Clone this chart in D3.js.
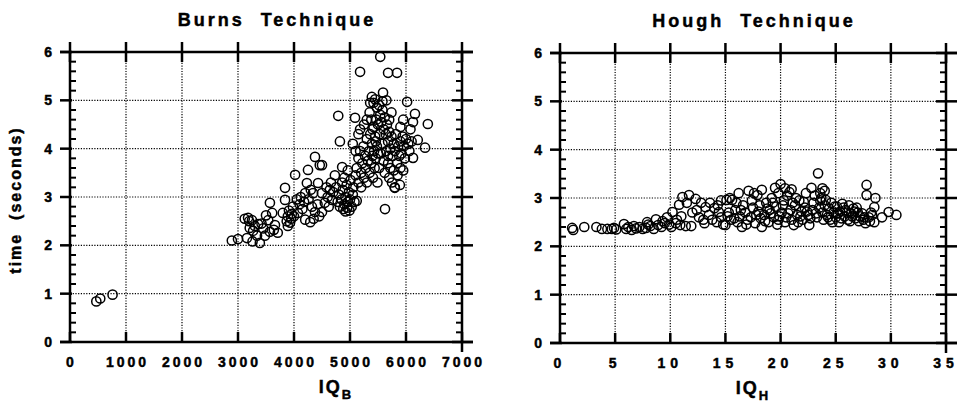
<!DOCTYPE html>
<html>
<head>
<meta charset="utf-8">
<script src="https://cdn.jsdelivr.net/npm/d3@7"></script>
<style>
  body { margin: 0; background: #fff; }
  text { font-family: "Liberation Sans", Arial, sans-serif; font-weight: bold; fill: #000; stroke: #000; stroke-width: 0.45px; }
</style>
</head>
<body>
<svg id="chart" width="959" height="405"></svg>
<script>
// values
var burnsTitle = "Burns  Technique",
    houghTitle = "Hough  Technique";
var burnsXTicks = [0, 1000, 2000, 3000, 4000, 5000, 6000, 7000],
    houghXTicks = [0, 5, 10, 15, 20, 25, 30, 35],
    timeTicks = [0, 1, 2, 3, 4, 5, 6];

var burnsPoints = [
  [470,0.84],[540,0.9],[760,0.98],
  [2890,2.1],[3000,2.13],[3120,2.55],[3180,2.57],[3160,2.15],[3250,2.52],[3210,2.36],[3270,2.3],[3260,2.08],
  [3340,2.2],[3390,2.05],[3360,2.44],[3480,2.2],[3420,2.45],[3540,2.52],[3500,2.62],[3570,2.88],[3610,2.67],
  [3660,2.42],[3570,2.28],[3710,2.26],[3640,2.32],[3300,2.4],[3450,2.35],[3200,2.5],
  [3800,2.67],[3840,2.94],[3840,3.19],[3870,2.5],[3890,2.6],[3910,2.72],[3930,2.47],[3950,2.55],[3960,2.65],
  [3890,2.4],[3980,2.8],[4020,3.46],[4070,2.67],[4200,2.53],[4290,2.48],[4320,2.8],[4230,3.29],[4200,3.08],
  [4250,3.56],[4375,3.83],[4460,3.66],[4100,2.85],[4150,2.75],[4050,2.95],[4000,2.6],[4120,3.0],[4180,2.9],
  [4260,2.95],[4300,3.15],[4340,3.08],[4375,2.69],[4430,3.29],[4500,3.08],[4550,2.88],[4500,2.69],[4640,3.15],
  [4680,2.94],[4420,2.85],[4450,2.6],[4350,2.55],[4580,3.2],[4600,3.0],[4620,2.8],[4700,3.1],[4660,3.3],
  [4780,2.9],[4800,3.05],[4820,2.8],[4850,2.95],[4870,3.15],[4880,2.75],[4900,2.85],[4920,3.0],[4940,3.25],
  [4950,2.78],[4960,2.9],[4980,3.1],[5000,2.95],[5010,3.35],[5030,2.8],[5050,3.05],[5060,3.2],[5080,2.9],
  [5100,3.45],[4900,3.4],[4960,3.55],[4860,3.3],[4750,3.2],[4730,3.45],[4920,2.7],[4990,2.72],[5120,2.92],
  [4790,4.68],[4820,4.15],[4860,3.62],[4500,3.66],[5090,4.64],
  [5120,3.6],[5150,3.3],[5150,3.8],[5180,3.95],[5200,3.5],[5200,3.2],[5220,3.7],[5240,4.05],[5250,3.4],
  [5270,3.85],[5280,3.6],[5300,4.2],[5300,3.3],[5320,3.75],[5340,3.95],[5350,3.5],[5360,4.3],[5380,3.7],
  [5390,4.1],[5400,3.85],[5410,3.4],[5420,4.45],[5430,3.95],[5440,3.6],[5450,4.25],[5460,3.8],[5470,4.6],
  [5480,4.05],[5490,3.3],[5500,3.9],[5100,3.95],[5050,4.1],[5150,4.3],[5250,4.5],[5180,4.4],[5300,4.6],[5350,4.75],
  [5390,5.07],[5590,5.16],[5420,4.95],[5450,5.02],[5480,4.85],[5520,4.9],[5540,4.7],[5560,4.55],[5580,4.8],
  [5600,4.4],[5620,4.65],[5640,4.3],[5660,4.5],[5680,4.15],[5700,4.35],[5720,4.0],[5740,4.25],[5760,3.85],
  [5780,4.1],[5800,3.95],[5820,4.3],[5840,3.7],[5860,4.05],[5880,3.85],[5900,4.15],[5920,3.9],[5940,4.25],
  [5960,4.05],[5980,3.8],[6000,4.2],[6020,4.97],[6040,4.1],[6060,3.95],[6160,4.72],[6125,4.55],[6390,4.51],
  [6340,4.02],[6210,4.18],[6125,3.81],[6080,4.4],[6100,4.15],[5520,3.6],[5550,3.9],[5580,4.1],[5600,3.75],
  [5620,3.5],[5650,3.95],[5680,3.7],[5700,3.4],[5720,3.6],[5750,3.3],[5780,3.55],[5800,3.2],[5890,3.25],
  [5625,2.75],[5800,3.19],[5850,3.45],[5900,3.6],[5950,3.55],[5680,3.85],[5540,5.9],[5180,5.59],[5680,5.57],
  [5840,5.57],[5500,4.5],[5530,4.3],[5460,4.15],[5700,4.6],[5740,4.75],[5900,4.45],[5950,4.6],[5650,5.0],
  [5580,4.98],[5360,4.95],[5380,4.6],[5400,4.4]
];

var houghPoints = [
  [1.1,2.38],[1.2,2.34],[2.2,2.4],[3.3,2.4],[3.8,2.36],[4.3,2.36],[4.7,2.36],[4.9,2.38],[5.1,2.35],[5.8,2.46],
  [6.0,2.36],[6.2,2.4],[6.5,2.34],[6.7,2.42],[6.9,2.37],[7.2,2.4],[7.5,2.36],[7.9,2.5],[7.8,2.38],[8.2,2.42],
  [8.5,2.36],[8.7,2.56],[8.9,2.44],[9.2,2.4],[9.5,2.48],[9.7,2.6],[9.9,2.45],[10.2,2.71],[10.1,2.4],[10.5,2.48],
  [10.8,2.86],[10.9,2.44],[11.1,3.02],[11.4,2.42],[11.5,2.9],[11.7,3.06],[11.9,2.42],[12.3,2.98],[12.4,2.75],
  [12.6,2.6],[13.1,2.48],[13.2,2.81],[13.5,2.65],[13.8,2.55],[14.0,2.79],[14.2,2.5],[14.4,2.71],[14.6,2.6],
  [14.8,2.45],[15.0,2.44],[15.1,2.96],[15.3,2.7],[15.5,2.55],[15.6,2.96],[15.9,2.75],[16.1,2.5],[16.3,2.62],
  [16.5,2.4],[16.6,2.85],[16.8,2.7],[17.0,2.55],[17.1,3.15],[17.3,2.6],[17.5,2.8],[17.7,2.48],[17.9,3.06],
  [18.0,2.72],[18.2,2.58],[18.3,3.17],[18.3,2.4],[18.5,2.65],[18.7,2.9],[18.9,2.5],[19.0,2.75],[19.2,3.0],
  [19.4,2.6],[19.5,3.21],[19.6,2.82],[19.8,2.55],[20.0,3.29],[20.1,2.7],[20.3,2.95],[20.5,2.6],[20.6,3.05],
  [20.8,3.12],[20.9,2.75],[21.0,2.55],[21.2,2.44],[21.3,2.85],[21.5,2.65],[21.7,2.95],[21.9,2.72],[22.0,2.55],
  [22.2,2.8],[22.3,3.1],[22.5,2.65],[22.6,2.44],[22.8,3.21],[22.9,2.75],[23.0,2.9],[23.1,3.05],[23.3,2.6],
  [23.4,3.51],[23.5,2.8],[23.6,2.95],[23.8,2.7],[23.9,2.55],[24.0,2.85],[24.1,2.96],[24.2,2.65],[24.4,2.78],
  [24.5,2.55],[24.6,2.9],[24.8,2.7],[25.0,2.6],[25.1,2.82],[25.3,2.5],[25.4,2.72],[25.6,2.88],[25.8,2.62],
  [25.9,2.75],[26.1,2.55],[26.2,2.85],[26.4,2.68],[26.6,2.78],[26.8,2.58],[27.0,2.7],[27.2,2.62],[27.5,2.55],
  [27.7,2.48],[27.8,3.27],[27.8,3.06],[28.0,2.6],[28.2,2.7],[28.5,2.81],[28.5,2.5],[28.6,3.0],[29.2,2.6],
  [29.8,2.71],[30.5,2.65],
  [13.0,2.55],[13.6,2.9],[14.3,2.85],[15.2,2.62],[15.8,2.58],[16.0,2.9],[16.4,2.75],[16.9,2.45],[17.4,2.95],
  [17.8,2.65],[18.1,2.85],[18.6,2.52],[18.8,2.78],[19.1,2.68],[19.3,2.9],[19.7,2.45],[19.9,2.62],[20.2,2.85],
  [20.4,2.5],[20.7,2.68],[21.1,2.9],[21.4,3.0],[21.6,2.5],[21.8,2.62],[22.1,2.92],[22.4,2.72],[22.7,2.58],
  [23.2,2.68],[23.7,3.0],[24.3,2.6],[24.7,2.5],[24.9,2.82],[25.2,2.68],[25.5,2.58],[25.7,2.8],[26.0,2.7],
  [26.3,2.52],[26.5,2.62],[26.7,2.72],[26.9,2.8],[27.1,2.52],[27.4,2.68],[27.6,2.6],[28.1,2.52],[28.3,2.65],
  [24.0,3.15],[23.8,3.2],[23.6,3.1],[20.4,3.2],[19.8,3.1],[21.0,3.18],[17.6,3.1],[16.2,3.1],[15.4,3.0],
  [14.6,2.95],[12.8,2.9],[11.0,2.62],[12.0,2.7],[10.6,2.55],[9.3,2.52],[8.0,2.45]
];

var svg = d3.select("#chart");

function panel(opts) {
  var w = opts.width, h = opts.height;
  var x = d3.scaleLinear().domain([0, opts.xTicks[opts.xTicks.length - 1]]).range([0, w]),
      y = d3.scaleLinear().domain([0, 6]).range([h, 0]);
  var g = svg.append("g").attr("transform", "translate(" + opts.left + "," + opts.top + ")");

  // dotted grid
  g.selectAll(".gx").data(opts.xTicks.slice(1, -1)).enter().append("line")
      .attr("x1", function(d) { return x(d); }).attr("x2", function(d) { return x(d); })
      .attr("y1", 0).attr("y2", h)
      .attr("stroke", "#000").attr("stroke-width", 1.2).attr("stroke-dasharray", "1.2,1.5");
  g.selectAll(".gy").data(timeTicks.slice(1, -1)).enter().append("line")
      .attr("x1", 0).attr("x2", w)
      .attr("y1", function(d) { return y(d); }).attr("y2", function(d) { return y(d); })
      .attr("stroke", "#000").attr("stroke-width", 1.2).attr("stroke-dasharray", "1.2,1.5");

  // frame
  var frame = g.append("g").attr("stroke", "#000").attr("stroke-width", 2.5);
  frame.append("line").attr("x1", -10).attr("x2", w + 11).attr("y1", 0).attr("y2", 0);
  frame.append("line").attr("x1", -10).attr("x2", w + 11).attr("y1", h).attr("y2", h);
  frame.append("line").attr("x1", 0).attr("x2", 0).attr("y1", -1).attr("y2", h + 1);
  frame.append("line").attr("x1", w).attr("x2", w).attr("y1", -1).attr("y2", h + 10);

  // x ticks: upward on bottom, crossing on top
  frame.selectAll(".tb").data(opts.xTicks).enter().append("line")
      .attr("x1", function(d) { return x(d); }).attr("x2", function(d) { return x(d); })
      .attr("y1", h).attr("y2", h - 10);
  frame.selectAll(".tt").data(opts.xTicks).enter().append("line")
      .attr("x1", function(d) { return x(d); }).attr("x2", function(d) { return x(d); })
      .attr("y1", -10).attr("y2", 10);

  // y major ticks
  frame.selectAll(".tl").data(timeTicks).enter().append("line")
      .attr("x1", -10).attr("x2", 2)
      .attr("y1", function(d) { return y(d); }).attr("y2", function(d) { return y(d); });
  frame.selectAll(".tr").data(timeTicks).enter().append("line")
      .attr("x1", w - 10).attr("x2", w + 11)
      .attr("y1", function(d) { return y(d); }).attr("y2", function(d) { return y(d); });

  // y minor ticks
  var minor = d3.range(0, 30).map(function(i) { return i / 5; }).filter(function(v) { return Math.round(v * 5) % 5 != 0; });
  frame.selectAll(".ml").data(minor).enter().append("line")
      .attr("x1", 0).attr("x2", 6).attr("stroke-width", 2)
      .attr("y1", function(d) { return y(d); }).attr("y2", function(d) { return y(d); });
  frame.selectAll(".mr").data(minor).enter().append("line")
      .attr("x1", w - 6).attr("x2", w).attr("stroke-width", 2)
      .attr("y1", function(d) { return y(d); }).attr("y2", function(d) { return y(d); });

  // tick labels
  g.selectAll(".xl").data(opts.xTicks).enter().append("text")
      .attr("x", function(d) { return x(d) + opts.lsDx; })
      .attr("y", h + 25)
      .attr("text-anchor", "middle")
      .style("font-size", "14px")
      .style("letter-spacing", opts.ls + "px")
      .text(function(d) { return d; });
  g.selectAll(".yl").data(timeTicks).enter().append("text")
      .attr("x", -18)
      .attr("y", function(d) { return y(d); })
      .attr("dy", "0.36em")
      .attr("text-anchor", "end")
      .style("font-size", "14px")
      .text(function(d) { return d; });

  // title
  g.append("text")
      .attr("x", w / 2 + opts.titleDx)
      .attr("y", -26)
      .attr("text-anchor", "middle")
      .style("font-size", "18px")
      .style("letter-spacing", "3px")
      .style("white-space", "pre")
      .text(opts.title);

  // x axis title with subscript
  var xt = g.append("text")
      .attr("x", w / 2 + opts.labelDx)
      .attr("y", h + 51)
      .attr("text-anchor", "middle")
      .style("font-size", "18px");
  xt.append("tspan").style("letter-spacing", "2px").text("IQ");
  xt.append("tspan").attr("dy", 6).style("font-size", "13px").text(opts.sub);

  // points
  g.selectAll(".pt").data(opts.points).enter().append("circle")
      .attr("cx", function(d) { return x(d[0]); })
      .attr("cy", function(d) { return y(d[1]); })
      .attr("r", 4.6)
      .attr("fill", "none")
      .attr("stroke", "#000")
      .attr("stroke-width", 1.5);

  return g;
}

panel({left: 70, top: 52, width: 392, height: 290, xTicks: burnsXTicks, points: burnsPoints,
       title: burnsTitle, titleDx: 11, sub: "B", labelDx: 69, ls: 3, lsDx: 1.5});
panel({left: 560, top: 53, width: 386, height: 290, xTicks: houghXTicks, points: houghPoints,
       title: houghTitle, titleDx: 1, sub: "H", labelDx: -1, ls: 5, lsDx: 0});

// shared y title
svg.append("text")
    .attr("transform", "translate(21,200) rotate(-90)")
    .attr("text-anchor", "middle")
    .style("font-size", "16px")
    .style("letter-spacing", "2px")
    .style("white-space", "pre")
    .text("time  (seconds)");
</script>
</body>
</html>
